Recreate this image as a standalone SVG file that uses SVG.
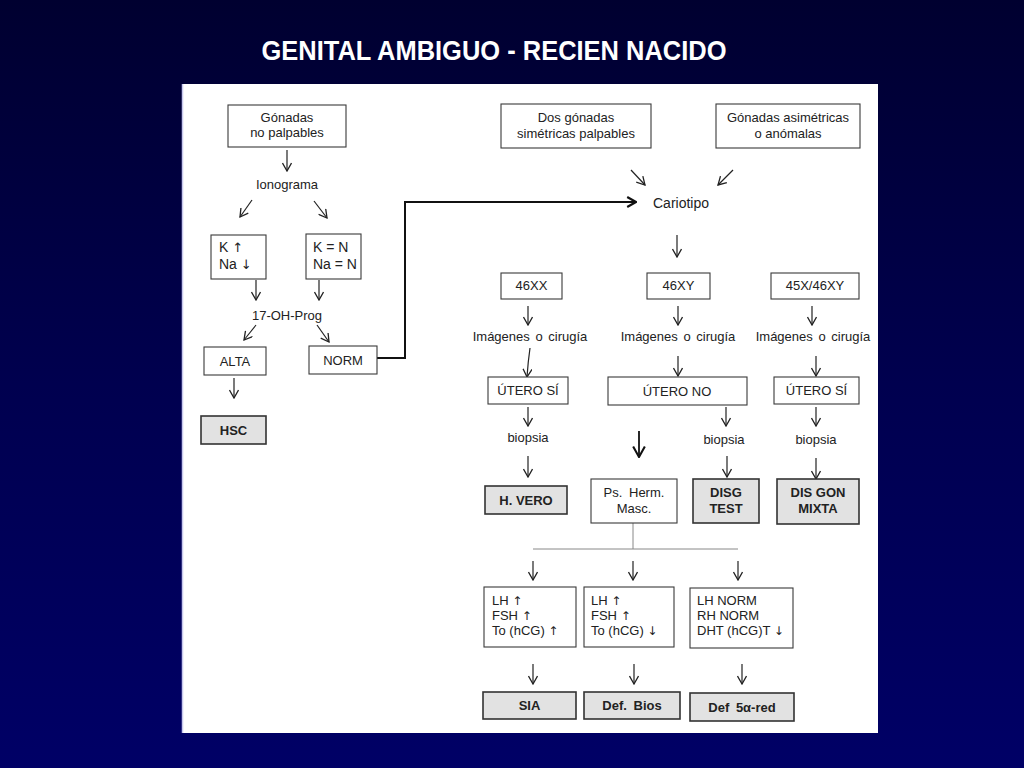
<svg xmlns="http://www.w3.org/2000/svg" width="1024" height="768" viewBox="0 0 1024 768">
<defs>
<linearGradient id="bg" x1="0" y1="0" x2="0" y2="1">
<stop offset="0" stop-color="#000030"/>
<stop offset="0.5" stop-color="#00004f"/>
<stop offset="1" stop-color="#000066"/>
</linearGradient>
<marker id="ah" viewBox="0 0 10 10" refX="9" refY="5" markerWidth="10" markerHeight="10" markerUnits="userSpaceOnUse" orient="auto">
<path d="M1,0.5 L9,5 L1,9.5" fill="none" stroke="#222" stroke-width="1.3"/>
</marker>
<marker id="ahb" viewBox="0 0 10 10" refX="9" refY="5" markerWidth="13" markerHeight="14" markerUnits="userSpaceOnUse" orient="auto">
<path d="M1,0.5 L9,5 L1,9.5" fill="none" stroke="#111" stroke-width="1.6"/>
</marker>
<marker id="ahl" viewBox="0 0 10 10" refX="9" refY="5" markerWidth="11" markerHeight="13" markerUnits="userSpaceOnUse" orient="auto">
<path d="M1,0.5 L9,5 L1,9.5" fill="none" stroke="#111" stroke-width="2"/>
</marker>
</defs>
<style>
text{font-family:"Liberation Sans",Arial,sans-serif;fill:#222;font-size:13px}
.c{text-anchor:middle}
.b{font-weight:bold}
.g{font-family:"DejaVu Sans",sans-serif;font-size:12px}
.box{fill:#fff;stroke:#3a3a3a;stroke-width:1.1}
.sh{fill:#e2e2e2;stroke:#333;stroke-width:1.6}
.ar{fill:none;stroke:#222;stroke-width:1.2;marker-end:url(#ah)}
.thin{fill:none;stroke:#888;stroke-width:1}
</style>
<rect width="1024" height="768" fill="url(#bg)"/>
<text x="494" y="60" class="c b" style="fill:#fff;font-size:28px" textLength="465" lengthAdjust="spacingAndGlyphs">GENITAL AMBIGUO - RECIEN NACIDO</text>
<rect x="182" y="84" width="696" height="649" fill="#fff"/>
<line x1="182.5" y1="84" x2="182.5" y2="733" stroke="#c8c8ee" stroke-width="1.5"/>

<g id="connectors">
<path class="ar" d="M287,150 V171"/>
<path class="ar" d="M252,200 L240,217"/>
<path class="ar" d="M314,201 L327,218"/>
<path class="ar" d="M256,280 V300"/>
<path class="ar" d="M319,280 V300"/>
<path class="ar" d="M256,325 L244,340"/>
<path class="ar" d="M317,325 L329,342"/>
<path class="ar" d="M234,378 V398"/>
<path d="M377,358 H405 V202 H636" fill="none" stroke="#111" stroke-width="2" marker-end="url(#ahl)"/>
<path class="ar" d="M631,170 L645,185"/>
<path class="ar" d="M733,170 L718,185"/>
<path class="ar" d="M677,235 V257"/>
<path class="ar" d="M528,306 V325"/>
<path class="ar" d="M678,306 V325"/>
<path class="ar" d="M812,306 V325"/>
<path class="ar" d="M530,348 Q528,362 527,377"/>
<path class="ar" d="M678,356 V376"/>
<path class="ar" d="M816,356 V376"/>
<path class="ar" d="M528,407 V426"/>
<path class="ar" d="M726,407 V426"/>
<path class="ar" d="M816,407 V426"/>
<path d="M639,431 V457" fill="none" stroke="#111" stroke-width="1.8" marker-end="url(#ahb)"/>
<path class="ar" d="M528,456 V477"/>
<path class="ar" d="M727,456 V477"/>
<path class="ar" d="M816,458 V479"/>
<path class="thin" d="M633,523 V549 M533,549 H738"/>
<path class="ar" d="M533,561 V580"/>
<path class="ar" d="M633,561 V580"/>
<path class="ar" d="M738,561 V580"/>
<path class="ar" d="M533,664 V684"/>
<path class="ar" d="M634,664 V684"/>
<path class="ar" d="M742,664 V684"/>
</g>

<g id="n-gonadas-no-palpables"><rect class="box" x="228" y="105" width="118" height="42"/><text class="c" x="287" y="121.5">Gónadas</text><text class="c" x="287" y="137">no palpables</text></g>
<g id="n-ionograma"><text class="c" x="287" y="188.5">Ionograma</text></g>
<g id="n-k-alto"><rect class="box" x="211" y="235" width="55" height="44"/><text x="219" y="252" style="font-size:14px">K <tspan class="g" style="font-size:13px">↑</tspan></text><text x="219" y="269" style="font-size:14px">Na <tspan class="g" style="font-size:13px">↓</tspan></text></g>
<g id="n-k-normal"><rect class="box" x="306" y="234" width="55" height="45"/><text x="313" y="252" style="font-size:14px">K = N</text><text x="313" y="269" style="font-size:14px">Na = N</text></g>
<g id="n-17oh"><text class="c" x="287" y="319.5">17-OH-Prog</text></g>
<g id="n-alta"><rect class="box" x="204" y="347" width="62" height="28"/><text class="c" x="235" y="365.5">ALTA</text></g>
<g id="n-norm"><rect class="box" x="309" y="346" width="68" height="28"/><text class="c" x="343" y="364.5">NORM</text></g>
<g id="n-hsc"><rect class="sh" x="201" y="416" width="65" height="28"/><text class="c b" x="233.5" y="434.5">HSC</text></g>

<g id="n-dos-gonadas"><rect class="box" x="501" y="104" width="150" height="44"/><text class="c" x="576" y="121.5">Dos gónadas</text><text class="c" x="576" y="137.5">simétricas palpables</text></g>
<g id="n-asimetricas"><rect class="box" x="716" y="104" width="144" height="44"/><text class="c" x="788" y="121.5">Gónadas asimétricas</text><text class="c" x="788" y="137.5">o anómalas</text></g>
<g id="n-cariotipo"><text x="653" y="208" style="font-size:14px">Cariotipo</text></g>

<g id="n-46xx"><rect class="box" x="501" y="273" width="61" height="26"/><text class="c" x="531.5" y="289.5">46XX</text></g>
<g id="n-46xy"><rect class="box" x="647" y="273" width="63" height="26"/><text class="c" x="678.5" y="289.5">46XY</text></g>
<g id="n-45x"><rect class="box" x="771" y="273" width="88" height="26"/><text class="c" x="815" y="289.5">45X/46XY</text></g>

<g id="n-img1"><text class="c" x="530" y="340.5" style="word-spacing:2px">Imágenes o cirugía</text></g>
<g id="n-img2"><text class="c" x="678" y="340.5" style="word-spacing:2px">Imágenes o cirugía</text></g>
<g id="n-img3"><text class="c" x="813" y="340.5" style="word-spacing:2px">Imágenes o cirugía</text></g>

<g id="n-utero-si-1"><rect class="box" x="488" y="377" width="80" height="27"/><text class="c" x="528" y="395">ÚTERO SÍ</text></g>
<g id="n-utero-no"><rect class="box" x="608" y="377" width="139" height="28"/><text class="c" x="677" y="395.5">ÚTERO NO</text></g>
<g id="n-utero-si-2"><rect class="box" x="774" y="377" width="85" height="27"/><text class="c" x="816.5" y="395">ÚTERO SÍ</text></g>

<g id="n-biopsia1"><text class="c" x="528" y="442">biopsia</text></g>
<g id="n-biopsia2"><text class="c" x="724" y="443.5">biopsia</text></g>
<g id="n-biopsia3"><text class="c" x="816" y="443.5">biopsia</text></g>

<g id="n-h-vero"><rect class="sh" x="485" y="486" width="82" height="28"/><text class="c b" x="526" y="504.5">H. VERO</text></g>
<g id="n-ps-herm"><rect class="box" x="591" y="479" width="86" height="44"/><text class="c" x="634" y="496.5" style="word-spacing:3px">Ps. Herm.</text><text class="c" x="634" y="512.5">Masc.</text></g>
<g id="n-disg-test"><rect class="sh" x="693" y="479" width="66" height="44"/><text class="c b" x="726" y="496.5">DISG</text><text class="c b" x="726" y="512.5">TEST</text></g>
<g id="n-dis-gon"><rect class="sh" x="777" y="479" width="82" height="45"/><text class="c b" x="818" y="496.5">DIS GON</text><text class="c b" x="818" y="512.5">MIXTA</text></g>

<g id="n-lh1"><rect class="box" x="484" y="587" width="92" height="60"/><text x="492" y="604.5">LH <tspan class="g">↑</tspan></text><text x="492" y="619.5">FSH <tspan class="g">↑</tspan></text><text x="492" y="634.5">To (hCG) <tspan class="g">↑</tspan></text></g>
<g id="n-lh2"><rect class="box" x="584" y="587" width="90" height="60"/><text x="591" y="604.5">LH <tspan class="g">↑</tspan></text><text x="591" y="619.5">FSH <tspan class="g">↑</tspan></text><text x="591" y="634.5">To (hCG) <tspan class="g">↓</tspan></text></g>
<g id="n-lh3"><rect class="box" x="690" y="588" width="103" height="60"/><text x="697" y="605">LH NORM</text><text x="697" y="620">RH NORM</text><text x="697" y="635">DHT (hCG)T <tspan class="g">↓</tspan></text></g>

<g id="n-sia"><rect class="sh" x="483" y="692" width="93" height="27"/><text class="c b" x="529.5" y="710">SIA</text></g>
<g id="n-def-bios"><rect class="sh" x="584" y="692" width="96" height="27"/><text class="c b" x="632" y="710" style="word-spacing:3px">Def. Bios</text></g>
<g id="n-def-5a"><rect class="sh" x="690" y="693" width="104" height="28"/><text class="c b" x="742" y="711.5" style="word-spacing:3px">Def 5α-red</text></g>
</svg>
